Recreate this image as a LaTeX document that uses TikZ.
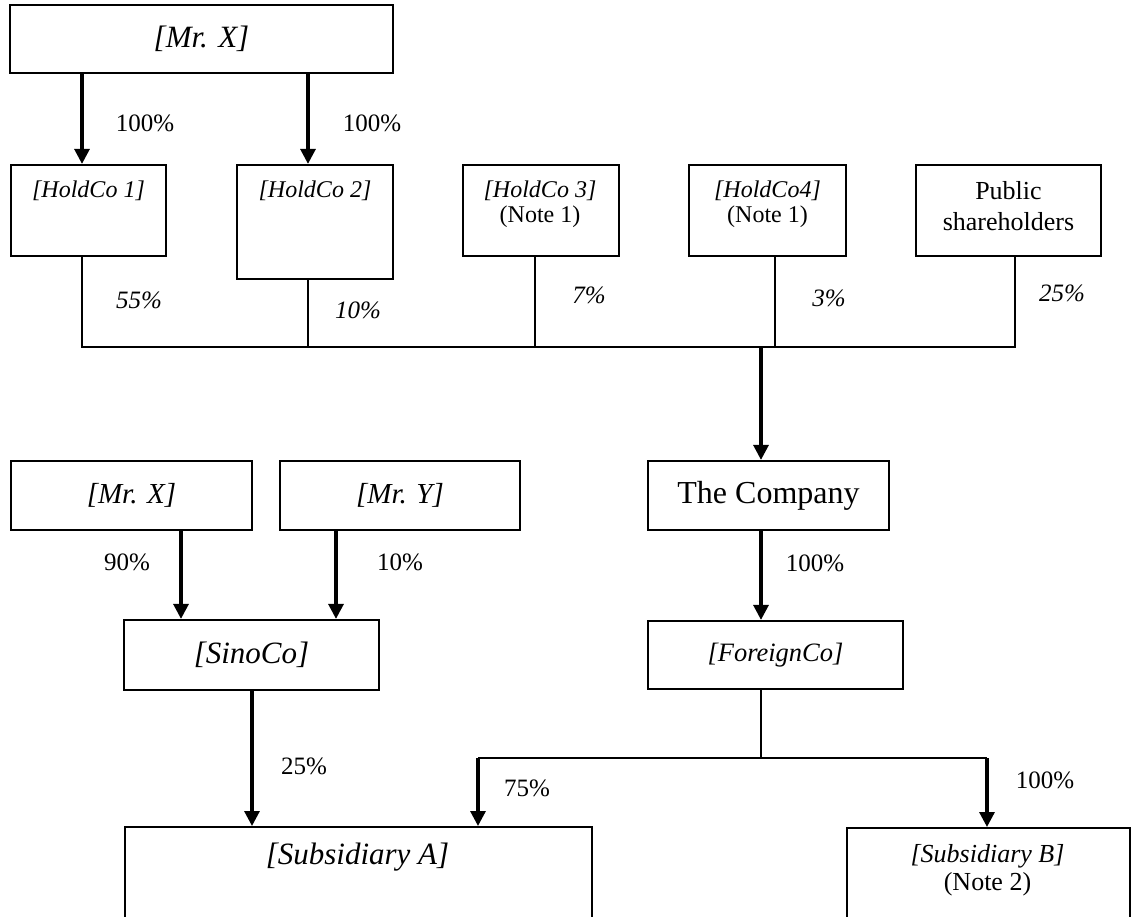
\documentclass[tikz,border=0pt]{standalone}
\usepackage{fontspec}
\setmainfont{Liberation Serif}
\usetikzlibrary{arrows.meta}
\tikzset{
  box/.style={draw, line width=2.2pt, inner sep=0pt},
  arr/.style={line width=3.2pt, -{Triangle[width=15pt,length=15pt]}},
  ln/.style={line width=2pt},
  txt/.style={inner sep=0pt},
  pct/.style={inner sep=0pt, font=\fontsize{25}{28}\selectfont},
  ipct/.style={inner sep=0pt, font=\fontsize{25}{28}\selectfont\itshape},
}
\begin{document}
\begin{tikzpicture}[x=1pt,y=-1pt]
\useasboundingbox (0,0) rectangle (1136,917);
\clip (0,0) rectangle (1136,917);
% column coordinates
\coordinate (xa) at (82,0);
\coordinate (xb) at (308,0);
\coordinate (xc) at (535,0);
\coordinate (xd) at (775,0);
\coordinate (xe) at (1015,0);
\coordinate (xm) at (761,0);
\coordinate (xs1) at (181,0);
\coordinate (xs2) at (336,0);
\coordinate (xs3) at (252,0);
\coordinate (xl) at (478,0);
\coordinate (xr) at (987,0);
\coordinate (busy) at (0,347);
\coordinate (spl) at (0,758);

% top part
\node[box, minimum width=383pt, minimum height=68pt, font=\fontsize{31}{34}\selectfont\itshape] (mx1) at (201.5,39) {[Mr. X]};
\node[box, minimum width=155pt, minimum height=91pt] (h1) at (88.5,210.5) {};
\node[txt, font=\fontsize{24}{27}\selectfont\itshape] (h1t) at (88.5,191) {[HoldCo 1]};
\node[box, minimum width=156pt, minimum height=114pt] (h2) at (315,222) {};
\node[txt, font=\fontsize{24}{27}\selectfont\itshape] (h2t) at (315,191) {[HoldCo 2]};
\node[box, minimum width=156pt, minimum height=91pt] (h3) at (541,210.5) {};
\node[txt, font=\fontsize{24}{27}\selectfont\itshape] (h3t) at (540,191) {[HoldCo 3]};
\node[txt, font=\fontsize{24}{27}\selectfont] (h3n) at (540,217) {(Note 1)};
\node[box, minimum width=157pt, minimum height=91pt] (h4) at (767.5,210.5) {};
\node[txt, font=\fontsize{24}{27}\selectfont\itshape] (h4t) at (767.5,191) {[HoldCo4]};
\node[txt, font=\fontsize{24}{27}\selectfont] (h4n) at (767.5,217) {(Note 1)};
\node[box, minimum width=185pt, minimum height=91pt] (pub) at (1008.5,210.5) {};
\node[txt, font=\fontsize{26}{29}\selectfont] (pubt) at (1008.5,191) {Public};
\node[txt, font=\fontsize{26}{29}\selectfont] (pubn) at (1008.5,222) {shareholders};

\draw[arr] (mx1.south -| xa) -- (h1.north -| xa);
\draw[arr] (mx1.south -| xb) -- (h2.north -| xb);
\node[pct] (p1) at (145,123) {100\%};
\node[pct] (p2) at (372,123) {100\%};

\draw[ln] (h1.south -| xa) -- (xa |- busy) -- (xe |- busy) -- (pub.south -| xe);
\draw[ln] (h2.south -| xb) -- (xb |- busy);
\draw[ln] (h3.south -| xc) -- (xc |- busy);
\draw[ln] (h4.south -| xd) -- (xd |- busy);
\node[ipct] (q1) at (139,300) {55\%};
\node[ipct] (q2) at (358,310) {10\%};
\node[ipct] (q3) at (589,295) {7\%};
\node[ipct] (q4) at (829,298) {3\%};
\node[ipct] (q5) at (1062,293) {25\%};

% company chain
\node[box, minimum width=241pt, minimum height=69pt, font=\fontsize{32}{35}\selectfont] (co) at (768.5,495.5) {The Company};
\node[box, minimum width=255pt, minimum height=68pt, font=\fontsize{26.5}{29}\selectfont\itshape] (fc) at (775.5,655) {[ForeignCo]};
\draw[arr] (xm |- busy) -- (co.north -| xm);
\draw[arr] (co.south -| xm) -- (fc.north -| xm);
\node[pct] (p3) at (815,563) {100\%};

% left group
\node[box, minimum width=241pt, minimum height=69pt, font=\fontsize{29}{32}\selectfont\itshape] (mx2) at (131.5,495.5) {[Mr. X]};
\node[box, minimum width=240pt, minimum height=69pt, font=\fontsize{29}{32}\selectfont\itshape] (my) at (400,495.5) {[Mr. Y]};
\node[box, minimum width=255pt, minimum height=70pt, font=\fontsize{31}{34}\selectfont\itshape] (sino) at (251.5,655) {[SinoCo]};
\draw[arr] (mx2.south -| xs1) -- (sino.north -| xs1);
\draw[arr] (my.south -| xs2) -- (sino.north -| xs2);
\node[pct] (p4) at (127,562) {90\%};
\node[pct] (p5) at (400,562) {10\%};

% subsidiaries
\node[box, minimum width=467pt, minimum height=170pt, anchor=north west] (sa) at (124,826) {};
\node[txt, font=\fontsize{31}{34}\selectfont\itshape] (sat) at (357.5,857) {[Subsidiary A]};
\node[box, minimum width=283pt, minimum height=170pt, anchor=north west] (sb) at (846,827) {};
\node[txt, font=\fontsize{26}{29}\selectfont\itshape] (sbt) at (987.5,856) {[Subsidiary B]};
\node[txt, font=\fontsize{26}{29}\selectfont] (sbn) at (987.5,884) {(Note 2)};

\draw[arr] (sino.south -| xs3) -- (sa.north -| xs3);
\node[pct] (p6) at (304,766) {25\%};

\draw[ln] (fc.south -| xm) -- (xm |- spl);
\draw[ln] (xl |- spl) -- (xr |- spl);
\draw[arr] (xl |- spl) -- (sa.north -| xl);
\draw[arr] (xr |- spl) -- (sb.north -| xr);
\node[pct] (p7) at (527,788) {75\%};
\node[pct] (p8) at (1045,780) {100\%};
\end{tikzpicture}
\end{document}
